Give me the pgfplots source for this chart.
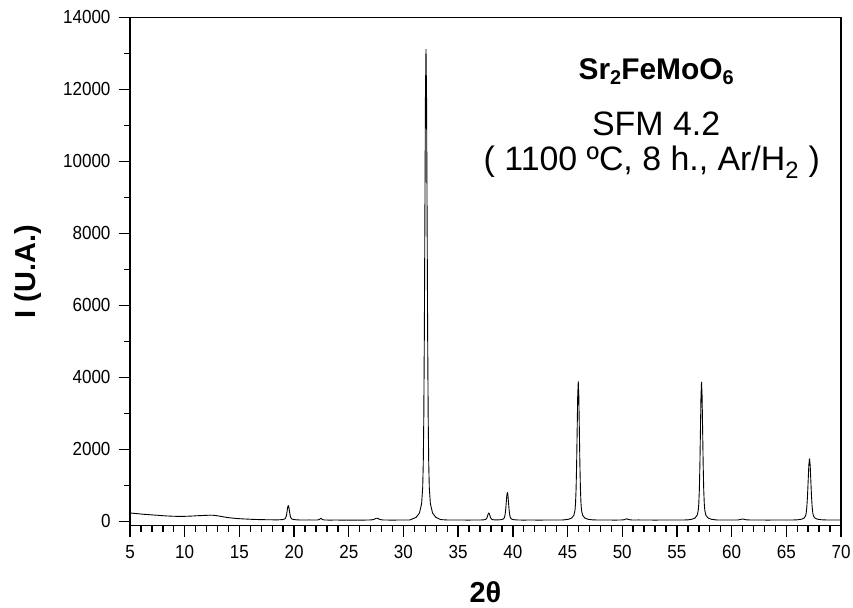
\documentclass[border=0pt]{standalone}
\usepackage{graphicx}
\usepackage{pgfplots}
\pgfplotsset{compat=1.18}
\usepackage{fontspec}
\setmainfont{Liberation Sans}
\newcommand\sx[1]{\scalebox{0.9}[1]{\fontsize{19}{22}\selectfont #1}}
\newcommand\sub[1]{\raisebox{-0.35ex}{\fontsize{20}{22}\selectfont #1}}
\begin{document}
\begin{tikzpicture}
\begin{axis}[
  scale only axis, width=711bp, height=508.4bp,
  xmin=5, xmax=70, ymin=-120, ymax=14000,
  xtick={5,10,...,70}, ytick={0,2000,...,14000},
  xticklabels={\sx{5},\sx{10},\sx{15},\sx{20},\sx{25},\sx{30},\sx{35},\sx{40},\sx{45},\sx{50},\sx{55},\sx{60},\sx{65},\sx{70}},
  yticklabels={\sx{0},\sx{2000},\sx{4000},\sx{6000},\sx{8000},\sx{10000},\sx{12000},\sx{14000}},
  scaled x ticks=false, scaled y ticks=false,
  minor x tick num=4, minor y tick num=1,
  tick align=outside,
  xtick pos=bottom, ytick pos=left,
  major tick length=11bp, minor tick length=6bp,
  every tick/.style={black, line width=1.4pt},
  axis line style={line width=1.4pt},
  xticklabel style={yshift=-5bp},
  yticklabel style={xshift=-5bp},
  xlabel={\textbf{2θ}}, ylabel={\textbf{I (U.A.)}},
  xlabel style={font=\fontsize{29}{32}\selectfont, at={(axis description cs:0.5,-0.13)}, anchor=center},
  ylabel style={font=\fontsize{29}{32}\selectfont, at={(axis description cs:-0.1435,0.5)}, anchor=center},
  clip=true,
]
\addplot[black, line width=0.9pt, line join=round] coordinates {
(5.0,235)(5.2,228)(5.4,222)(5.6,216)(5.8,210)(6.0,204)(6.3,196)(6.6,190)(6.9,183)(7.2,176)(7.5,170)(7.8,162)(8.1,156)(8.4,150)(8.7,146)(9.0,142)(9.3,140)(9.6,138)(9.9,140)(10.2,142)(10.5,146)(10.8,150)(11.1,156)(11.4,160)(11.7,164)(12.0,168)(12.3,172)(12.6,170)(12.9,160)(13.2,145)(13.5,128)(13.8,112)(14.1,100)(14.4,90)(14.7,82)(15.0,75)(15.4,68)(15.8,62)(16.2,56)(16.6,52)(17.0,48)(17.5,46)(18.0,44)(18.5,42)
(18.97,50)(19.17,70)(19.27,129)(19.32,200)(19.37,299)(19.42,398)(19.47,440)(19.52,398)(19.57,299)(19.62,200)(19.67,129)(19.77,70)(19.97,50)
(20.4,40)(20.9,38)(21.4,40)(21.8,37)(22.1,38)(22.3,50)(22.45,85)(22.6,50)(22.8,38)(23.3,36)(23.8,38)(24.3,36)(24.8,37)(25.3,35)(25.8,37)(26.3,36)(26.8,38)
(27.1,42)(27.35,60)(27.5,88)(27.65,84)(27.85,52)(28.1,40)(28.6,37)(29.1,36)(29.6,38)(30.1,37)(30.6,40)
(31.16,113)(31.46,231)(31.66,493)(31.76,950)(31.81,1604)(31.86,2912)(31.91,5265)(31.96,8534)(32.01,11803)(32.06,13110)(32.11,11803)(32.16,8534)(32.21,5265)(32.26,2912)(32.31,1604)(32.36,950)(32.46,493)(32.66,231)(32.96,113)
(33.4,50)(33.9,40)(34.4,38)(34.9,37)(35.4,38)(35.9,36)(36.4,38)(36.9,37)
(37.3,42)(37.5,51)(37.6,80)(37.65,115)(37.7,164)(37.75,212)(37.8,232)(37.85,212)(37.9,164)(37.95,115)(38.0,80)(38.1,51)(38.3,42)
(38.6,40)(38.9,47)(39.1,62)(39.2,89)(39.25,127)(39.3,204)(39.35,343)(39.4,535)(39.45,728)(39.5,805)(39.55,728)(39.6,535)(39.65,343)(39.7,204)(39.75,127)(39.8,89)(39.9,62)(40.1,47)
(40.5,38)(41.0,36)(41.5,38)(42.0,37)(42.5,36)(43.0,38)(43.5,37)(44.0,38)(44.6,40)
(45.08,58)(45.38,93)(45.58,170)(45.68,304)(45.73,496)(45.78,881)(45.83,1573)(45.88,2534)(45.93,3495)(45.98,3880)(46.03,3495)(46.08,2534)(46.13,1573)(46.18,881)(46.23,496)(46.28,304)(46.38,170)(46.58,93)(46.88,58)
(47.3,42)(47.8,38)(48.3,37)(48.8,38)(49.3,36)(49.8,38)(50.1,42)(50.25,55)(50.4,72)(50.55,55)(50.75,42)(51.0,38)(51.5,40)(52.0,37)(52.5,38)(53.0,36)(53.5,38)(54.0,37)(54.5,38)(55.0,37)(55.5,38)(56.0,42)
(56.35,58)(56.65,93)(56.85,169)(56.95,303)(57.00,495)(57.05,879)(57.10,1569)(57.15,2528)(57.20,3487)(57.25,3870)(57.30,3487)(57.35,2528)(57.40,1569)(57.45,879)(57.50,495)(57.55,303)(57.65,169)(57.85,93)(58.15,58)
(58.6,40)(59.1,38)(59.6,37)(60.1,38)(60.6,40)(60.85,55)(61.0,68)(61.15,55)(61.4,42)(61.8,38)(62.3,37)(62.8,38)(63.3,36)(63.8,38)(64.3,37)(64.8,38)(65.3,37)(65.7,40)
(66.04,45)(66.40,61)(66.64,95)(66.76,154)(66.82,240)(66.88,410)(66.94,717)(67.00,1143)(67.06,1570)(67.12,1740)(67.18,1570)(67.24,1143)(67.30,717)(67.36,410)(67.42,240)(67.48,154)(67.60,95)(67.84,61)(68.20,45)
(68.6,40)(69.0,38)(69.5,39)(70.0,38)
};
\node[font=\bfseries\fontsize{30}{34}\selectfont, anchor=center] at (axis cs:53.1,12490) {Sr\sub{2}FeMoO\sub{6}};
\node[font=\fontsize{34}{38}\selectfont, anchor=center] at (axis cs:53.1,11050) {SFM 4.2};
\node[font=\fontsize{34}{38}\selectfont, anchor=center] at (axis cs:52.7,9965) {( 1100 ºC, 8 h., Ar/H\textsubscript{2} )};
\end{axis}
\pgfresetboundingbox
\path[use as bounding box] (-130bp,-82.3bp) rectangle (723bp,525.7bp);
\end{tikzpicture}
\end{document}
